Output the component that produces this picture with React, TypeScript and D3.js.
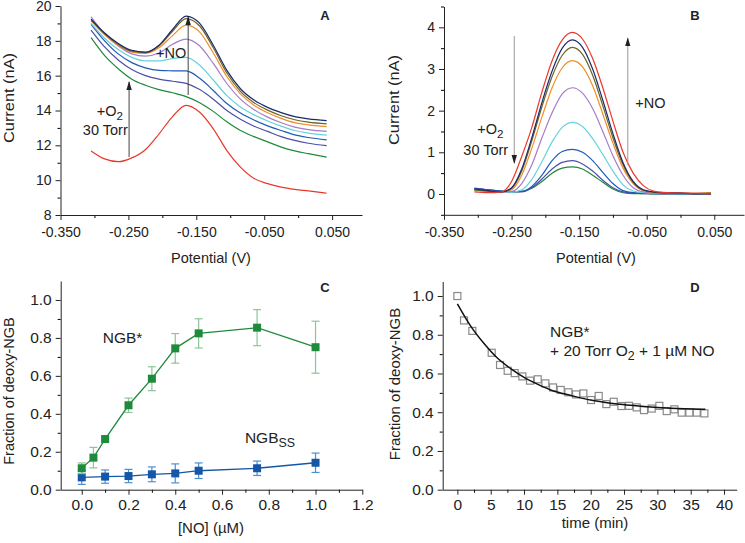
import { useEffect, useRef } from "react";
import * as d3 from "d3";

// ---- panel A: voltammograms, current (nA) vs potential (V)
const potentialA = [-0.305, -0.285, -0.265, -0.245, -0.225, -0.205, -0.185, -0.165, -0.145, -0.125, -0.105, -0.085, -0.065, -0.045, -0.025, -0.005, 0.015, 0.042];
const aRed = [11.68, 11.22, 11.06, 11.28, 11.75, 12.65, 13.65, 14.3, 13.9, 12.95, 11.7, 10.75, 10.1, 9.8, 9.6, 9.47, 9.38, 9.25];
const aGreen = [18.18, 17.15, 16.4, 15.8, 15.45, 15.2, 15.02, 14.8, 14.45, 13.95, 13.35, 12.85, 12.5, 12.2, 11.9, 11.68, 11.52, 11.32];
const aSlate = [18.62, 17.65, 16.9, 16.35, 16.0, 15.8, 15.68, 15.56, 15.2, 14.65, 14.0, 13.5, 13.1, 12.8, 12.5, 12.28, 12.12, 11.98];
const aBlue = [18.95, 18.0, 17.25, 16.75, 16.45, 16.3, 16.28, 16.27, 15.85, 15.15, 14.4, 13.85, 13.45, 13.12, 12.85, 12.6, 12.45, 12.31];
const aCyan = [19.0, 18.15, 17.5, 17.05, 16.85, 16.85, 16.98, 17.05, 16.6, 15.75, 14.85, 14.2, 13.75, 13.4, 13.1, 12.85, 12.7, 12.59];
const aPurple = [19.38, 18.4, 17.7, 17.25, 17.12, 17.3, 17.8, 18.1, 17.7, 16.7, 15.55, 14.65, 14.05, 13.62, 13.3, 13.05, 12.9, 12.8];
const aOrange = [19.15, 18.35, 17.75, 17.35, 17.28, 17.6, 18.3, 18.9, 18.5, 17.3, 15.95, 14.95, 14.3, 13.87, 13.55, 13.3, 13.17, 13.07];
const aOlive = [19.2, 18.4, 17.8, 17.4, 17.32, 17.7, 18.55, 19.28, 18.85, 17.6, 16.15, 15.1, 14.45, 14.02, 13.7, 13.47, 13.33, 13.23];
const aNavy = [19.25, 18.45, 17.85, 17.45, 17.35, 17.75, 18.65, 19.42, 19.0, 17.75, 16.3, 15.25, 14.6, 14.18, 13.88, 13.65, 13.52, 13.42];

// ---- panel B: baseline-subtracted peaks
const potentialB = [-0.305, -0.285, -0.265, -0.25, -0.235, -0.22, -0.205, -0.19, -0.175, -0.16, -0.145, -0.13, -0.115, -0.1, -0.085, -0.07, -0.055, -0.04, -0.02, 0.0, 0.02, 0.045];
const bRed = [0.05, 0.03, 0.05, 0.3, 0.9, 1.6, 2.45, 3.2, 3.7, 3.88, 3.72, 3.25, 2.55, 1.75, 1.0, 0.5, 0.2, 0.07, 0.03, 0.02, 0.02, 0.0];
const bGreen = [0.12, 0.1, 0.07, 0.05, 0.06, 0.14, 0.3, 0.5, 0.62, 0.65, 0.6, 0.45, 0.28, 0.12, 0.03, 0.01, 0.01, 0.0, 0.0, 0.0, 0.0, 0.0];
const bSlate = [0.14, 0.1, 0.07, 0.05, 0.05, 0.15, 0.36, 0.6, 0.76, 0.8, 0.72, 0.55, 0.33, 0.15, 0.05, 0.02, 0.01, 0.01, 0.0, 0.0, 0.0, 0.0];
const bBlue = [0.13, 0.1, 0.07, 0.05, 0.06, 0.18, 0.45, 0.8, 1.02, 1.07, 1.0, 0.8, 0.52, 0.25, 0.08, 0.03, 0.02, 0.01, 0.01, 0.0, 0.0, 0.0];
const bCyan = [0.1, 0.07, 0.05, 0.04, 0.1, 0.35, 0.78, 1.25, 1.6, 1.72, 1.62, 1.33, 0.95, 0.55, 0.22, 0.07, 0.03, 0.02, 0.01, 0.01, 0.0, 0.01];
const bPurple = [0.1, 0.07, 0.05, 0.06, 0.25, 0.7, 1.35, 1.95, 2.4, 2.55, 2.42, 2.05, 1.5, 0.92, 0.45, 0.15, 0.05, 0.03, 0.02, 0.02, 0.01, 0.02];
const bOrange = [0.1, 0.07, 0.05, 0.1, 0.45, 1.1, 1.85, 2.55, 3.03, 3.2, 3.05, 2.6, 1.92, 1.22, 0.62, 0.25, 0.08, 0.04, 0.02, 0.02, 0.01, 0.03];
const bOlive = [0.1, 0.07, 0.05, 0.13, 0.55, 1.28, 2.1, 2.82, 3.33, 3.52, 3.35, 2.85, 2.12, 1.35, 0.7, 0.28, 0.09, 0.04, 0.02, 0.02, 0.01, 0.02];
const bNavy = [0.12, 0.08, 0.05, 0.15, 0.6, 1.35, 2.2, 2.95, 3.5, 3.7, 3.52, 3.0, 2.25, 1.45, 0.75, 0.3, 0.1, 0.05, 0.03, 0.02, 0.0, 0.0];

const curveColors = ["#e8382b", "#1f8a3b", "#4d4fa6", "#1e5bb5", "#67d2dc", "#a57cc8", "#f28d2a", "#6c6424", "#1b2a6a"];

// ---- panel C: fraction of deoxy-NGB vs [NO]
const noConc = [0, 0.05, 0.1, 0.2, 0.3, 0.4, 0.5, 0.75, 1.0];
const ngbStar = [0.113, 0.169, 0.267, 0.445, 0.585, 0.745, 0.824, 0.854, 0.751];
const ngbStarErr = [0.028, 0.054, 0.01, 0.038, 0.063, 0.078, 0.077, 0.095, 0.137];
const noConcSS = [0, 0.1, 0.2, 0.3, 0.4, 0.5, 0.75, 1.0];
const ngbSS = [0.065, 0.069, 0.072, 0.081, 0.086, 0.1, 0.113, 0.142];
const ngbSSErr = [0.037, 0.035, 0.035, 0.039, 0.05, 0.041, 0.038, 0.051];

// ---- panel D: time course + fit
const timeMin = [0, 1.0, 2.25, 5.15, 6.4, 7.55, 8.6, 9.75, 10.9, 12.05, 13.2, 14.35, 15.5, 16.65, 17.8, 18.9, 20.05, 21.2, 22.35, 23.45, 24.6, 25.75, 26.9, 28, 29.15, 30.3, 31.4, 32.55, 33.65, 34.8, 35.9, 37.05];
const fracDeoxy = [1.0, 0.874, 0.82, 0.707, 0.644, 0.614, 0.602, 0.585, 0.563, 0.57, 0.549, 0.528, 0.515, 0.503, 0.492, 0.497, 0.463, 0.484, 0.442, 0.454, 0.432, 0.433, 0.425, 0.411, 0.419, 0.433, 0.406, 0.415, 0.398, 0.398, 0.398, 0.394];
const fitTime = [0, 2, 4, 6, 8, 10, 12, 14, 16, 18, 20, 22, 24, 26, 28, 30, 32, 34, 36, 37.2];
const fitFrac = [0.96, 0.845, 0.755, 0.68, 0.625, 0.58, 0.545, 0.515, 0.495, 0.478, 0.463, 0.452, 0.443, 0.436, 0.43, 0.425, 0.421, 0.418, 0.416, 0.415];

const FONT = "Arial, 'Liberation Sans', Helvetica, sans-serif";
const INK = "#222";

const range = (a, b, step) => d3.range(a, b + step / 2, step).map((v) => +v.toFixed(4));

function drawAxes(g, x, y, cfg) {
  const yb = y.range()[0];
  const xl = x.range()[0];
  const fs = cfg.fontSize;

  g.append("g")
    .attr("transform", `translate(0,${yb})`)
    .call(d3.axisBottom(x).tickValues(cfg.xMinor).tickSize(3).tickFormat(() => ""))
    .call((s) => s.select(".domain").remove());
  g.append("g")
    .attr("transform", `translate(0,${yb})`)
    .call(d3.axisBottom(x).tickValues(cfg.xMajor).tickSize(5).tickSizeOuter(0).tickPadding(cfg.xPad).tickFormat(cfg.xFmt))
    .attr("font-size", fs)
    .attr("font-family", FONT)
    .attr("color", INK);

  g.append("g")
    .attr("transform", `translate(${xl},0)`)
    .call(d3.axisLeft(y).tickValues(cfg.yMinor).tickSize(3).tickFormat(() => ""))
    .call((s) => s.select(".domain").remove());
  g.append("g")
    .attr("transform", `translate(${xl},0)`)
    .call(d3.axisLeft(y).tickValues(cfg.yMajor).tickSize(5).tickSizeOuter(0).tickPadding(cfg.yPad).tickFormat(cfg.yFmt))
    .attr("font-size", fs)
    .attr("font-family", FONT)
    .attr("color", INK);
}

function label(g, x, y, txt, size, opts: any = {}) {
  const t = g
    .append("text")
    .attr("x", x)
    .attr("y", y)
    .attr("font-family", FONT)
    .attr("font-size", size)
    .attr("fill", INK)
    .attr("text-anchor", opts.anchor || "start");
  if (opts.bold) t.attr("font-weight", "bold");
  if (opts.rotate) t.attr("transform", `rotate(-90,${x},${y})`);
  if (opts.length) t.attr("textLength", opts.length).attr("lengthAdjust", "spacingAndGlyphs");
  t.text(txt);
  return t;
}

function subText(g, x, y, parts, size, anchor = "start") {
  const t = g
    .append("text")
    .attr("x", x)
    .attr("y", y)
    .attr("font-family", FONT)
    .attr("font-size", size)
    .attr("fill", INK)
    .attr("text-anchor", anchor);
  let down = 0;
  parts.forEach(([s, sub]) => {
    const dy = sub ? 4 - down : -down;
    down = sub ? 4 : 0;
    t.append("tspan").attr("dy", dy).attr("font-size", sub ? size * 0.8 : size).text(s);
  });
}

const App = () => {
  const ref = useRef(null);

  useEffect(() => {
    const svg = d3.select(ref.current);
    svg.selectAll("*").remove();

    const defs = svg.append("defs");
    defs
      .append("marker")
      .attr("id", "head")
      .attr("viewBox", "0 0 10 10")
      .attr("refX", 9)
      .attr("refY", 5)
      .attr("markerWidth", 9)
      .attr("markerHeight", 9)
      .attr("markerUnits", "userSpaceOnUse")
      .attr("orient", "auto")
      .append("path")
      .attr("d", "M0,2 L10,5 L0,8 Z")
      .attr("fill", "#222");

    const arrow = (g, x1, y1, x2, y2, color) =>
      g
        .append("line")
        .attr("x1", x1)
        .attr("y1", y1)
        .attr("x2", x2)
        .attr("y2", y2)
        .attr("stroke", color)
        .attr("stroke-width", 1)
        .attr("marker-end", "url(#head)");

    // ================= panel A
    {
      const g = svg.append("g");
      const x = d3.scaleLinear().domain([-0.35, 0.094]).range([60.5, 362]);
      const y = d3.scaleLinear().domain([8, 20]).range([215, 6]);
      drawAxes(g, x, y, {
        xMajor: range(-0.35, 0.05, 0.1),
        xMinor: range(-0.3, 0.0, 0.1),
        yMajor: range(8, 20, 2),
        yMinor: range(9, 19, 2),
        xFmt: (d) => d.toFixed(3),
        yFmt: (d) => d3.format("d")(d),
        fontSize: 14,
        xPad: 7,
        yPad: 4,
      });
      const series = [aRed, aGreen, aSlate, aBlue, aCyan, aPurple, aOrange, aOlive, aNavy];
      const line = d3
        .line()
        .x((d) => x(d[0]))
        .y((d) => y(d[1]))
        .curve(d3.curveMonotoneX);
      series.forEach((vals, i) => {
        g.append("path")
          .attr("d", line(potentialA.map((p, j) => [p, vals[j]])))
          .attr("fill", "none")
          .attr("stroke", curveColors[i])
          .attr("stroke-width", 1.2);
      });
      arrow(g, x(-0.249), y(11.33), x(-0.249), y(15.64), "#444");
      arrow(g, x(-0.162), y(14.89), x(-0.162), y(19.37), "#444");
      subText(g, x(-0.258), y(13.68), [["+O", false], ["2", true]], 14.5, "end");
      label(g, x(-0.251), y(12.59), "30 Torr", 14.5, { anchor: "end" });
      label(g, x(-0.2094), y(17.0), "+NO", 14.5);
      label(g, 325, 20, "A", 13, { bold: true, anchor: "middle" });
      label(g, 211, 263, "Potential (V)", 14.5, { anchor: "middle" });
      label(g, 14, 98, "Current (nA)", 15, { anchor: "middle", rotate: true, length: 90 });
    }

    // ================= panel B
    {
      const g = svg.append("g");
      const x = d3.scaleLinear().domain([-0.35, 0.094]).range([444, 744]);
      const y = d3.scaleLinear().domain([-0.5, 4.5]).range([214.8, 6.5]);
      drawAxes(g, x, y, {
        xMajor: range(-0.35, 0.05, 0.1),
        xMinor: range(-0.3, 0.0, 0.1),
        yMajor: range(0, 4, 1),
        yMinor: range(-0.5, 4.5, 1),
        xFmt: (d) => d.toFixed(3),
        yFmt: (d) => d3.format("d")(d),
        fontSize: 14,
        xPad: 7,
        yPad: 4,
      });
      const series = [bGreen, bSlate, bBlue, bCyan, bPurple, bOrange, bOlive, bNavy, bRed];
      const colors = [1, 2, 3, 4, 5, 6, 7, 8, 0].map((k) => curveColors[k]);
      const line = d3
        .line()
        .x((d) => x(d[0]))
        .y((d) => y(d[1]))
        .curve(d3.curveMonotoneX);
      series.forEach((vals, i) => {
        g.append("path")
          .attr("d", line(potentialB.map((p, j) => [p, vals[j]])))
          .attr("fill", "none")
          .attr("stroke", colors[i])
          .attr("stroke-width", 1.2);
      });
      arrow(g, x(-0.246), y(3.79), x(-0.246), y(0.743), "#999");
      arrow(g, x(-0.078), y(0.695), x(-0.078), y(3.74), "#999");
      subText(g, x(-0.262), y(1.44), [["+O", false], ["2", true]], 14.5, "end");
      label(g, x(-0.255), y(0.935), "30 Torr", 14.5, { anchor: "end" });
      label(g, x(-0.067), y(2.06), "+NO", 14.5);
      label(g, 695, 20, "B", 13, { bold: true, anchor: "middle" });
      label(g, 596, 263, "Potential (V)", 14.5, { anchor: "middle" });
      label(g, 399, 100, "Current (nA)", 15, { anchor: "middle", rotate: true, length: 90 });
    }

    // ================= panel C
    {
      const g = svg.append("g");
      const x = d3.scaleLinear().domain([-0.09, 1.2]).range([60.7, 362.3]);
      const y = d3.scaleLinear().domain([0, 1.1]).range([489.7, 281]);
      drawAxes(g, x, y, {
        xMajor: range(0, 1.2, 0.2),
        xMinor: range(0.1, 1.1, 0.2),
        yMajor: range(0, 1.0, 0.2),
        yMinor: range(0.1, 0.9, 0.2),
        xFmt: (d) => d.toFixed(1),
        yFmt: (d) => d.toFixed(1),
        fontSize: 15.5,
        xPad: 4,
        yPad: 4,
      });
      const drawSeries = (xs, ys, es, dark, light) => {
        const pts = xs.map((v, i) => [v, ys[i], es[i]]);
        const eb = g.append("g").attr("stroke", light).attr("stroke-width", 1.2);
        pts.forEach(([a, b, e]) => {
          eb.append("line").attr("x1", x(a)).attr("x2", x(a)).attr("y1", y(b - e)).attr("y2", y(b + e));
          [b - e, b + e].forEach((v) =>
            eb.append("line").attr("x1", x(a) - 4).attr("x2", x(a) + 4).attr("y1", y(v)).attr("y2", y(v))
          );
        });
        g.append("path")
          .attr("d", d3.line().x((d) => x(d[0])).y((d) => y(d[1]))(pts))
          .attr("fill", "none")
          .attr("stroke", dark)
          .attr("stroke-width", 1.3);
        g.selectAll(null)
          .data(pts)
          .join("rect")
          .attr("x", (d) => x(d[0]) - 4)
          .attr("y", (d) => y(d[1]) - 4)
          .attr("width", 8)
          .attr("height", 8)
          .attr("fill", dark);
      };
      drawSeries(noConcSS, ngbSS, ngbSSErr, "#1456a8", "#4a8fd2");
      drawSeries(noConc, ngbStar, ngbStarErr, "#1e8b3c", "#8cc596");
      label(g, x(0.0896), y(0.771), "NGB*", 15.5);
      subText(g, x(0.698), y(0.246), [["NGB", false], ["SS", true]], 15.5);
      label(g, 325, 292, "C", 13, { bold: true, anchor: "middle" });
      label(g, 211, 533, "[NO] (\u00b5M)", 15, { anchor: "middle" });
      label(g, 14, 391, "Fraction of deoxy-NGB", 14.5, { anchor: "middle", rotate: true });
    }

    // ================= panel D
    {
      const g = svg.append("g");
      const x = d3.scaleLinear().domain([-2.2, 41.9]).range([442.7, 736.7]);
      const y = d3.scaleLinear().domain([0, 1.075]).range([489.7, 281.5]);
      drawAxes(g, x, y, {
        xMajor: range(0, 40, 5),
        xMinor: range(2.5, 37.5, 5),
        yMajor: range(0, 1.0, 0.2),
        yMinor: range(0.1, 0.9, 0.2),
        xFmt: (d) => d3.format("d")(d),
        yFmt: (d) => d.toFixed(1),
        fontSize: 15.5,
        xPad: 4,
        yPad: 4,
      });
      g.selectAll(null)
        .data(timeMin.map((t, i) => [t, fracDeoxy[i]]))
        .join("rect")
        .attr("x", (d) => x(d[0]) - 3.5)
        .attr("y", (d) => y(d[1]) - 3.5)
        .attr("width", 7)
        .attr("height", 7)
        .attr("fill", "none")
        .attr("stroke", "#8a8a8a")
        .attr("stroke-width", 1.2);
      g.append("path")
        .attr(
          "d",
          d3
            .line()
            .x((d) => x(d[0]))
            .y((d) => y(d[1]))
            .curve(d3.curveMonotoneX)(fitTime.map((t, i) => [t, fitFrac[i]]))
        )
        .attr("fill", "none")
        .attr("stroke", "#111")
        .attr("stroke-width", 1.5);
      label(g, x(13.9), y(0.788), "NGB*", 15.5);
      subText(
        g,
        x(13.9),
        y(0.69),
        [
          ["+ 20 Torr O", false],
          ["2", true],
          [" + 1 \u00b5M NO", false],
        ],
        15.5
      );
      label(g, 695, 292, "D", 13, { bold: true, anchor: "middle" });
      label(g, 595, 528, "time (min)", 15, { anchor: "middle" });
      label(g, 400, 384, "Fraction of deoxy-NGB", 15, { anchor: "middle", rotate: true });
    }
  }, []);

  return (
    <svg
      ref={ref}
      width={745}
      height={543}
      xmlns="http://www.w3.org/2000/svg"
      style={{ position: "absolute", left: 0, top: 0, background: "#fff" }}
    ></svg>
  );
};

export default App;
